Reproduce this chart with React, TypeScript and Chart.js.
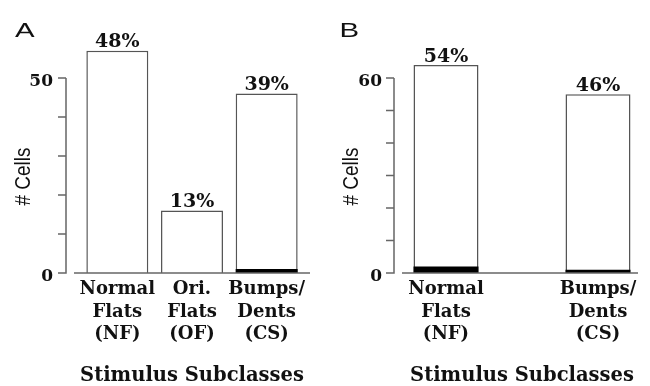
import React, { useEffect, useRef } from 'react';
import { Chart, registerables } from 'chart.js';
Chart.register(...registerables);

// Panel A data
const categoriesA = [['Normal', 'Flats', '(NF)'], ['Ori.', 'Flats', '(OF)'], ['Bumps/', 'Dents', '(CS)']];
const totalsA = [57, 16, 46];
const blackA = [0, 0, 1];
const percentA = [48, 13, 39];
const yLabeledA = [0, 50];
const yMaxA = 50;

// Panel B data
const categoriesB = [['Normal', 'Flats', '(NF)'], '', ['Bumps/', 'Dents', '(CS)']];
const totalsB = [64, null, 55];
const blackB = [2, null, 1];
const percentB = [54, null, 46];
const yLabeledB = [0, 60];
const yMaxB = 60;

const xTitle = 'Stimulus Subclasses';
const yTitle = '# Cells';

const SERIF = '"DejaVu Serif", serif';
const SANS = '"Liberation Sans", Arial, sans-serif';
const TEXT = '#111';
const AXIS = '#666';
const BORDER = '#555';

type PanelProps = {
  letter: string;
  letterX: number;
  categories: any[];
  totals: (number | null)[];
  black: (number | null)[];
  percent: (number | null)[];
  yMax: number;
  labeled: number[];
  yWidth: number;
  padRight: number;
  baseExt: [number, number];
  barPct: number;
  tickPad: number;
};

function Panel(p: PanelProps) {
  const ref = useRef<HTMLCanvasElement>(null);
  useEffect(() => {
    if (!ref.current) return;
    const deco = {
      id: 'deco',
      afterDatasetsDraw(chart: any) {
        const ctx = chart.ctx;
        const ys = chart.scales.y;
        const area = chart.chartArea;
        ctx.save();
        const ax = area.left - 14;
        ctx.strokeStyle = AXIS;
        ctx.lineWidth = 1.5;
        ctx.beginPath();
        ctx.moveTo(ax, ys.getPixelForValue(0) + 0.75);
        ctx.lineTo(ax, ys.getPixelForValue(p.yMax));
        ys.ticks.forEach((t: any) => {
          const py = ys.getPixelForValue(t.value);
          ctx.moveTo(ax - 8, py);
          ctx.lineTo(ax, py);
        });
        ctx.stroke();
        const by = ys.getPixelForValue(0);
        ctx.beginPath();
        ctx.moveTo(area.left - p.baseExt[0], by);
        ctx.lineTo(area.right + p.baseExt[1], by);
        ctx.stroke();

        const meta = chart.getDatasetMeta(1);
        ctx.fillStyle = TEXT;
        ctx.font = `bold 19px ${SERIF}`;
        ctx.textAlign = 'center';
        ctx.textBaseline = 'alphabetic';
        meta.data.forEach((bar: any, i: number) => {
          const v = p.percent[i];
          if (v == null) return;
          ctx.fillText(`${v}%`, bar.x, bar.y - 3.5);
        });

        ctx.save();
        ctx.translate(ax - 42, (area.top + area.bottom) / 2 + 1);
        ctx.rotate(-Math.PI / 2);
        ctx.scale(0.86, 1);
        ctx.font = `22px ${SANS}`;
        ctx.textAlign = 'center';
        ctx.textBaseline = 'middle';
        ctx.fillText(yTitle, 0, 0);
        ctx.restore();

        ctx.save();
        ctx.translate(p.letterX, 36.7);
        ctx.scale(1.4, 1);
        ctx.textAlign = 'left';
        ctx.textBaseline = 'alphabetic';
        ctx.font = `21px ${SANS}`;
        ctx.fillText(p.letter, 0, 0);
        ctx.restore();
        ctx.restore();
      },
    };

    const chart = new Chart(ref.current, {
      type: 'bar',
      data: {
        labels: p.categories,
        datasets: [
          {
            data: p.black,
            backgroundColor: '#000',
            borderWidth: 0,
            grouped: false,
            clip: false,
            categoryPercentage: 1,
            barPercentage: p.barPct,
          } as any,
          {
            data: p.totals,
            backgroundColor: '#fff',
            borderColor: BORDER,
            borderWidth: 1.5,
            grouped: false,
            clip: false,
            categoryPercentage: 1,
            barPercentage: p.barPct,
          } as any,
        ],
      },
      options: {
        animation: false,
        responsive: false,
        layout: { padding: { top: 78, right: p.padRight, bottom: 0, left: 0 } },
        plugins: { legend: { display: false }, tooltip: { enabled: false } },
        scales: {
          x: {
            type: 'category',
            offset: true,
            grid: { display: false, drawTicks: false, tickLength: 0 },
            border: { display: false },
            ticks: {
              autoSkip: false,
              maxRotation: 0,
              minRotation: 0,
              padding: 5,
              color: TEXT,
              font: { family: SERIF, weight: 'bold', size: 18, lineHeight: 1.26 },
            },
            title: {
              display: true,
              text: xTitle,
              color: TEXT,
              padding: { top: 0, bottom: -2 },
              font: { family: SERIF, weight: 'bold', size: 19.5, lineHeight: 1.2 },
            },
            afterFit: (s: any) => {
              s.height = 113;
            },
          },
          y: {
            min: 0,
            max: p.yMax,
            grid: { display: false, drawTicks: false, tickLength: 0 },
            border: { display: false },
            ticks: {
              stepSize: 10,
              padding: p.tickPad,
              labelOffset: 4,
              color: TEXT,
              font: { family: SERIF, weight: 'bold', size: 17 },
              callback: (v: any) => (p.labeled.includes(Number(v)) ? String(v) : ''),
            },
            afterFit: (s: any) => {
              s.width = p.yWidth;
            },
          },
        },
      } as any,
      plugins: [deco],
    });
    return () => chart.destroy();
  }, []);
  return <canvas ref={ref} width={325} height={386} style={{ display: 'block', width: 325, height: 386 }} />;
}

export default function App() {
  return (
    <div style={{ position: 'fixed', left: 0, top: 0, width: 650, height: 386, background: '#fff', display: 'flex' }}>
      <Panel
        letter="A"
        letterX={15}
        categories={categoriesA}
        totals={totalsA}
        black={blackA}
        percent={percentA}
        yMax={yMaxA}
        labeled={yLabeledA}
        yWidth={80}
        padRight={21}
        baseExt={[6, 6]}
        barPct={0.83}
        tickPad={27}
      />
      <Panel
        letter="B"
        letterX={14.5}
        categories={categoriesB}
        totals={totalsB}
        black={blackB}
        percent={percentB}
        yMax={yMaxB}
        labeled={yLabeledB}
        yWidth={83}
        padRight={14}
        baseExt={[6, 2]}
        barPct={0.855}
        tickPad={26}
      />
    </div>
  );
}
